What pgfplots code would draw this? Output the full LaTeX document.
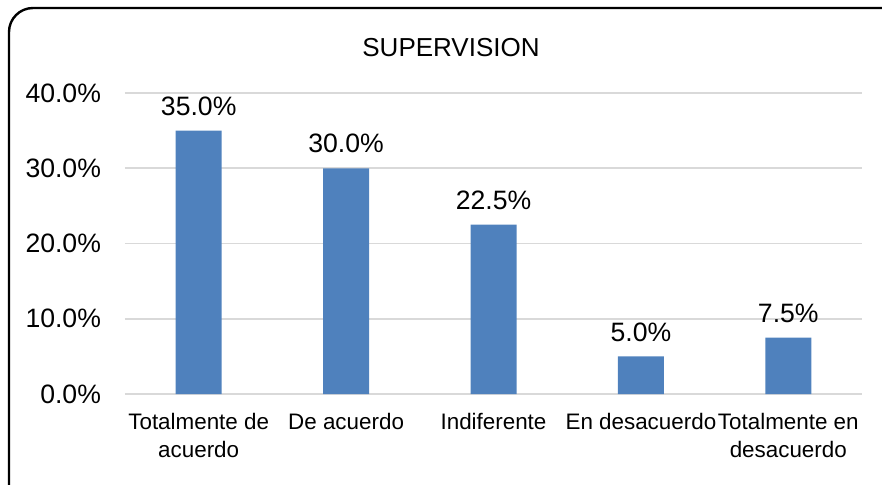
\documentclass[border=0pt]{standalone}
\usepackage{fontspec}
\setmainfont{Liberation Sans}
\usepackage{pgfplots}
\pgfplotsset{compat=1.18}
\definecolor{barblue}{HTML}{4F81BD}
\definecolor{gridgray}{HTML}{D9D9D9}
\begin{document}
\begin{tikzpicture}
\useasboundingbox (0,0) rectangle (441pt,242pt);
\begin{scope}
\clip (0,0) rectangle (441pt,242pt);
\draw[line width=1.2pt, rounded corners=12pt] (4.5pt,238pt) rectangle (460pt,-20pt);
\end{scope}
\node[font=\fontsize{13}{15}\selectfont, anchor=base] at (225.5pt,214pt) {SUPERVISION};
\begin{axis}[
  at={(62.5pt,45pt)}, anchor=south west,
  scale only axis,
  width=368.5pt, height=150.5pt,
  xmin=-0.5, xmax=4.5,
  ymin=0, ymax=40,
  ytick={0,10,20,30,40},
  xtick=data,
  xticklabels={{Totalmente de\\acuerdo},{De acuerdo},{Indiferente},{En desacuerdo},{Totalmente en\\desacuerdo}},
  xticklabel style={align=center, font=\fontsize{11.2}{14}\selectfont, yshift=-6pt},
  yticklabel={\pgfmathprintnumber[fixed,fixed zerofill,precision=1]{\tick}\%},
  yticklabel style={font=\fontsize{13.3}{15}\selectfont, xshift=-8.5pt},
  /pgf/number format/assume math mode=true,
  axis line style={draw=none},
  major tick length=0pt,
  ymajorgrids,
  grid style={gridgray, line width=0.8pt},
  ybar, bar width=23pt,
  nodes near coords={\pgfmathprintnumber[fixed,fixed zerofill,precision=1]{\pgfplotspointmeta}\%},
  nodes near coords style={font=\fontsize{13.3}{15}\selectfont, yshift=4pt},
  clip=false,
]
\addplot[fill=barblue, draw=none] coordinates {(0,35.0) (1,30.0) (2,22.5) (3,5.0) (4,7.5)};
\end{axis}
\end{tikzpicture}
\end{document}
